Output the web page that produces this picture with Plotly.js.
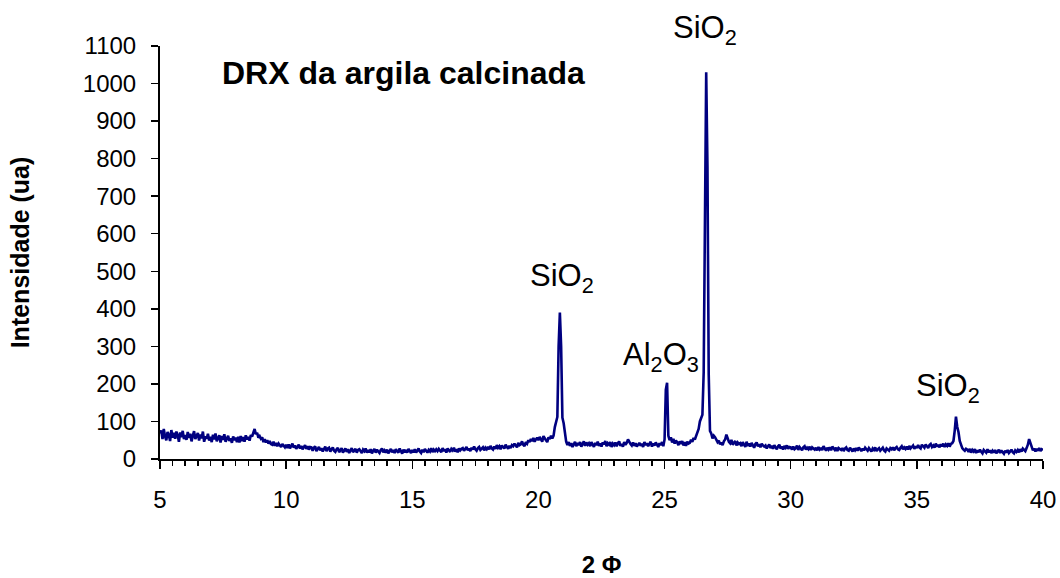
<!DOCTYPE html>
<html>
<head>
<meta charset="utf-8">
<script src="https://cdn.plot.ly/plotly-3.0.1.min.js"></script>
<style>html,body{margin:0;padding:0;background:#fff;}#chart{width:1060px;height:578px;}</style>
</head>
<body>
<div id="chart"></div>
<script>
// 2θ sampling of the scan (degrees)
const twoThetaStart = 5;
const twoThetaStep = 0.05;

// Intensity (ua), 20 readings per degree from 5.00 to 39.95, then 40.00
const intensity = [
  /* 5  */ 68,76,53,80,60,50,72,64,48,77,57,70,54,73,63,46,71,58,75,53,
  /* 6  */ 64,51,72,56,67,47,62,74,53,61,69,49,65,55,73,46,60,54,67,49,
  /* 7  */ 59,45,65,52,68,47,57,63,44,61,51,66,46,56,62,48,55,43,60,50,
  /* 8  */ 57,45,59,44,61,48,58,46,63,52,59,49,64,60,72,80,66,70,57,61,
  /* 9  */ 54,58,45,53,44,50,41,48,40,38,46,35,43,34,41,36,32,40,34,31,
  /* 10 */ 38,29,39,28,35,41,30,36,27,34,38,28,35,26,33,37,27,34,25,32,
  /* 11 */ 31,22,30,34,21,28,32,23,29,20,27,33,21,28,30,20,26,31,22,19,
  /* 12 */ 26,30,18,25,29,17,24,28,19,26,16,25,29,18,23,27,17,24,26,19,
  /* 13 */ 16,25,21,28,17,24,18,26,15,22,27,17,25,20,16,24,28,18,23,17,
  /* 14 */ 25,15,21,27,18,24,16,26,21,17,28,20,14,25,18,24,17,27,21,16,
  /* 15 */ 24,18,26,17,22,28,20,16,25,18,27,21,17,24,20,29,18,25,21,26,
  /* 16 */ 21,27,22,18,29,21,26,17,28,22,19,27,23,30,20,26,18,28,23,27,
  /* 17 */ 29,22,27,32,23,28,21,30,25,33,26,22,29,32,24,28,31,23,30,26,
  /* 18 */ 32,26,35,28,25,33,27,37,30,34,26,36,31,28,38,32,27,35,29,37,
  /* 19 */ 34,41,36,31,43,37,39,47,38,34,45,41,50,45,53,48,56,46,52,57,
  /* 20 */ 50,59,52,46,61,54,50,45,58,53,62,55,62,85,100,112,300,390,300,110,
  /* 21 */ 95,62,46,37,45,35,42,32,39,46,34,43,37,45,33,41,47,35,44,38,
  /* 22 */ 42,34,45,38,32,43,37,46,35,41,33,44,39,48,34,42,38,45,32,41,
  /* 23 */ 37,44,34,42,47,35,40,33,45,38,43,52,45,40,36,44,35,42,33,40,
  /* 24 */ 43,35,41,32,45,37,42,34,40,46,33,41,36,44,38,32,42,37,45,34,
  /* 25 */ 52,185,203,62,50,58,44,54,41,49,44,37,47,40,48,36,45,35,46,41,
  /* 26 */ 43,51,46,56,52,62,70,80,100,112,118,230,605,1030,780,225,75,68,55,62,
  /* 27 */ 58,49,45,49,39,44,37,47,52,65,55,46,42,51,38,45,48,36,44,40,
  /* 28 */ 42,34,45,38,32,46,35,41,33,43,37,30,40,44,34,39,31,41,36,33,
  /* 29 */ 36,28,34,39,29,35,27,37,31,26,34,38,28,33,25,35,30,36,27,32,
  /* 30 */ 31,25,33,26,29,36,24,32,28,23,31,34,25,30,26,33,24,31,28,25,
  /* 31 */ 30,23,32,25,28,24,34,27,22,30,25,31,23,33,27,24,30,21,29,25,
  /* 32 */ 24,29,21,28,31,24,22,30,26,20,28,23,29,22,31,25,21,28,23,30,
  /* 33 */ 26,22,29,23,20,28,24,31,21,26,29,22,25,30,23,20,28,24,22,29,
  /* 34 */ 26,31,23,29,32,26,24,30,34,26,31,27,33,25,35,28,32,36,27,34,
  /* 35 */ 29,37,31,28,38,32,30,39,33,29,37,40,32,36,30,41,33,38,31,39,
  /* 36 */ 34,41,32,39,35,42,33,40,42,48,75,113,86,72,48,35,29,25,22,27,
  /* 37 */ 25,19,27,17,24,20,26,16,23,18,25,19,15,24,21,17,26,18,23,16,
  /* 38 */ 22,17,24,15,20,25,16,23,18,14,22,17,24,16,20,25,18,15,23,19,
  /* 39 */ 24,18,26,20,28,23,21,29,38,53,42,30,23,28,20,27,22,29,21,26,
  /* 40 */ 24
];

// Phase labels and where they sit (2θ, intensity)
const peakLabels = ["SiO<sub>2</sub>", "Al<sub>2</sub>O<sub>3</sub>", "SiO<sub>2</sub>", "SiO<sub>2</sub>"];
const peakLabelX = [20.93, 24.86, 26.6, 36.23];
const peakLabelY = [482, 272, 1142, 189];

const yMax = 1100;
const titleText = "DRX da argila calcinada";
const xTitle = "2 Φ";
const yTitle = "Intensidade (ua)";

const FONT = "Liberation Sans, Arial, sans-serif";

const trace = {
  type: "scatter",
  mode: "lines",
  x0: twoThetaStart,
  dx: twoThetaStep,
  y: intensity,
  line: {color: "rgb(0,0,128)", width: 2.6},
  hoverinfo: "x+y"
};

const annotations = peakLabels.map((t, i) => ({
  text: t, x: peakLabelX[i], y: peakLabelY[i] / yMax, xref: "x", yref: "paper",
  showarrow: false, xanchor: "center", yanchor: "middle",
  font: {family: FONT, size: 31, color: "#000"}
}));

const layout = {
  width: 1060, height: 578,
  margin: {l: 160, r: 17, t: 46, b: 119},
  paper_bgcolor: "#fff", plot_bgcolor: "#fff",
  showlegend: false,
  font: {family: FONT, color: "#000"},
  title: {
    text: "<b>" + titleText + "</b>",
    x: 222 / 1060, xanchor: "left", xref: "container",
    y: 1 - 73 / 578, yanchor: "middle", yref: "container",
    font: {family: FONT, size: 32, color: "#000"}
  },
  xaxis: {
    range: [5, 40], autorange: false,
    tickmode: "linear", tick0: 5, dtick: 5,
    ticks: "outside", ticklen: 8, tickwidth: 1.5, tickcolor: "#000",
    minor: {dtick: 0.5, tick0: 5, ticks: "outside", ticklen: 5, tickwidth: 1.5, tickcolor: "#000", showgrid: false},
    showline: true, linecolor: "#000", linewidth: 2,
    showgrid: false, zeroline: false,
    tickfont: {family: FONT, size: 24, color: "#000"},
    ticklabelstandoff: 10,
    title: {text: "<b>" + xTitle + "</b>", font: {family: FONT, size: 24, color: "#000"}, standoff: 46}
  },
  yaxis: {
    range: [0, yMax], autorange: false,
    tickmode: "linear", tick0: 0, dtick: 100,
    ticks: "outside", ticklen: 7, tickwidth: 1.5, tickcolor: "#000",
    showline: true, linecolor: "#000", linewidth: 2,
    showgrid: false, zeroline: false,
    tickfont: {family: FONT, size: 24, color: "#000"},
    ticklabelstandoff: 10,
    title: {text: "<b>" + yTitle + "</b>", font: {family: FONT, size: 25, color: "#000"}, standoff: 46}
  },
  annotations: annotations
};

Plotly.newPlot("chart", [trace], layout, {displayModeBar: false, staticPlot: true});
</script>
</body>
</html>
